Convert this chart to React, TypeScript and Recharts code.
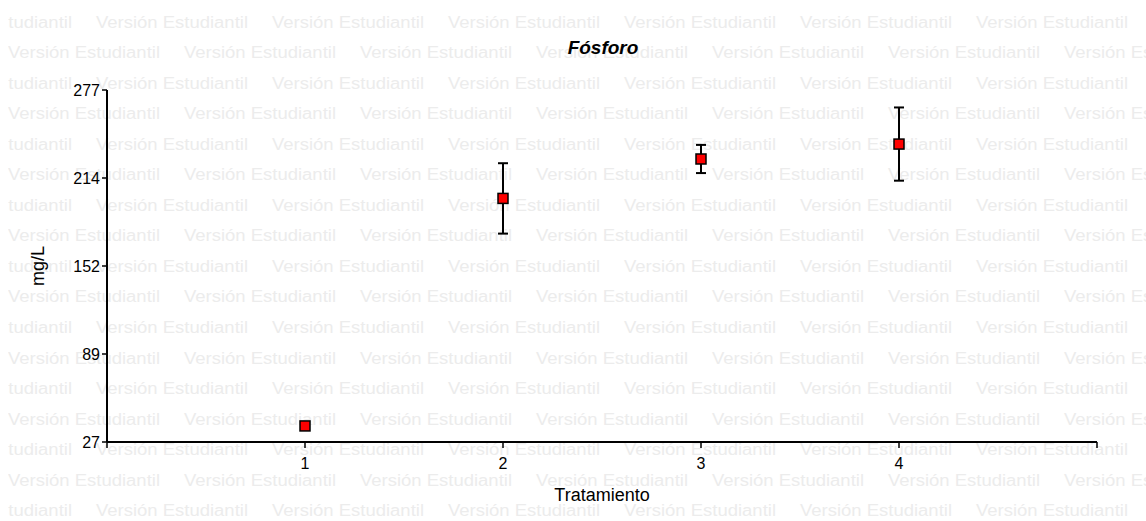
import { ScatterChart, Scatter, XAxis, YAxis, ErrorBar, Label } from "recharts"

// Tratamientos y medias de fósforo (mg/L) con su error
const tratamientos = [1, 2, 3, 4]
const medias = [38.4, 200, 228, 238.6]
const errores = [2, 25, 10, 26]

const xTicks = [0, 1, 2, 3, 4, 5]
const yTicks = [27, 89.5, 152, 214.5, 277]
const yTickLabels = ["27", "89", "152", "214", "277"]

const data = tratamientos.map((t, i) => ({ x: t, y: medias[i], err: errores[i] }))

const FONT = "'Liberation Sans', Arial, sans-serif"

function Marca(props: any) {
  const { cx, cy } = props
  if (cx == null || cy == null) return null
  return <rect x={cx - 5} y={cy - 5} width={10} height={10} fill="#ff0000" stroke="#000" strokeWidth={1.5} />
}

// marca de agua de fondo
function MarcaDeAgua() {
  const filas = Array.from({ length: 17 }, (_, i) => i)
  const cols = Array.from({ length: 9 }, (_, k) => k - 1)
  return (
    <svg width={1146} height={521} style={{ position: "absolute", left: 0, top: 0 }}>
      <defs>
        <clipPath id="wm">
          <rect x={8} y={0} width={1138} height={521} />
        </clipPath>
      </defs>
      <g clipPath="url(#wm)" fill="#ececec" fontFamily={FONT} fontSize={16}>
        {filas.map((i) =>
          cols.map((k) => (
            <text
              key={i + "-" + k}
              x={(i % 2 === 0 ? -80 : 8) + k * 176}
              y={21.7 + 30.55 * i + 5.8}
              textLength={152}
              lengthAdjust="spacingAndGlyphs"
            >
              Versión Estudiantil
            </text>
          ))
        )}
      </g>
    </svg>
  )
}

export default function App() {
  return (
    <div style={{ position: "absolute", left: 0, top: 0, width: 1146, height: 521, background: "#fff" }}>
      <MarcaDeAgua />
      <div
        style={{
          position: "absolute",
          left: 0,
          width: 1206,
          top: 37,
          textAlign: "center",
          fontFamily: FONT,
          fontWeight: "bold",
          fontStyle: "italic",
          fontSize: 19,
          color: "#000",
        }}
      >
        Fósforo
      </div>
      <div style={{ position: "absolute", left: 0, top: 0 }}>
        <ScatterChart width={1146} height={521} margin={{ top: 90, right: 49, bottom: 0, left: 0 }}>
          <XAxis
            type="number"
            dataKey="x"
            domain={[0, 5]}
            ticks={xTicks}
            tickFormatter={(v: number) => (v === 0 || v === 5 ? "" : String(v))}
            height={79}
            tickSize={6}
            tickMargin={10}
            axisLine={{ stroke: "#000", strokeWidth: 2 }}
            tickLine={{ stroke: "#000", strokeWidth: 1.5 }}
            tick={{ fill: "#000", fontSize: 16, fontFamily: FONT }}
          >
            <Label
              value="Tratamiento"
              position="insideBottom"
              offset={20}
              style={{ fill: "#000", fontSize: 18, fontFamily: FONT }}
            />
          </XAxis>
          <YAxis
            type="number"
            dataKey="y"
            domain={[27, 277]}
            ticks={yTicks}
            tickFormatter={(v: number) => yTickLabels[yTicks.indexOf(v)]}
            width={107}
            tickSize={5}
            tickMargin={2}
            axisLine={{ stroke: "#000", strokeWidth: 2 }}
            tickLine={{ stroke: "#000", strokeWidth: 1.5 }}
            tick={{ fill: "#000", fontSize: 16, fontFamily: FONT }}
          >
            <Label
              value="mg/L"
              angle={-90}
              position="insideLeft"
              offset={38}
              style={{ fill: "#000", fontSize: 18, fontFamily: FONT, textAnchor: "middle" }}
            />
          </YAxis>
          <Scatter data={data} shape={Marca} isAnimationActive={false}>
            <ErrorBar dataKey="err" direction="y" width={5} stroke="#000" strokeWidth={2} isAnimationActive={false} />
          </Scatter>
        </ScatterChart>
      </div>
    </div>
  )
}
